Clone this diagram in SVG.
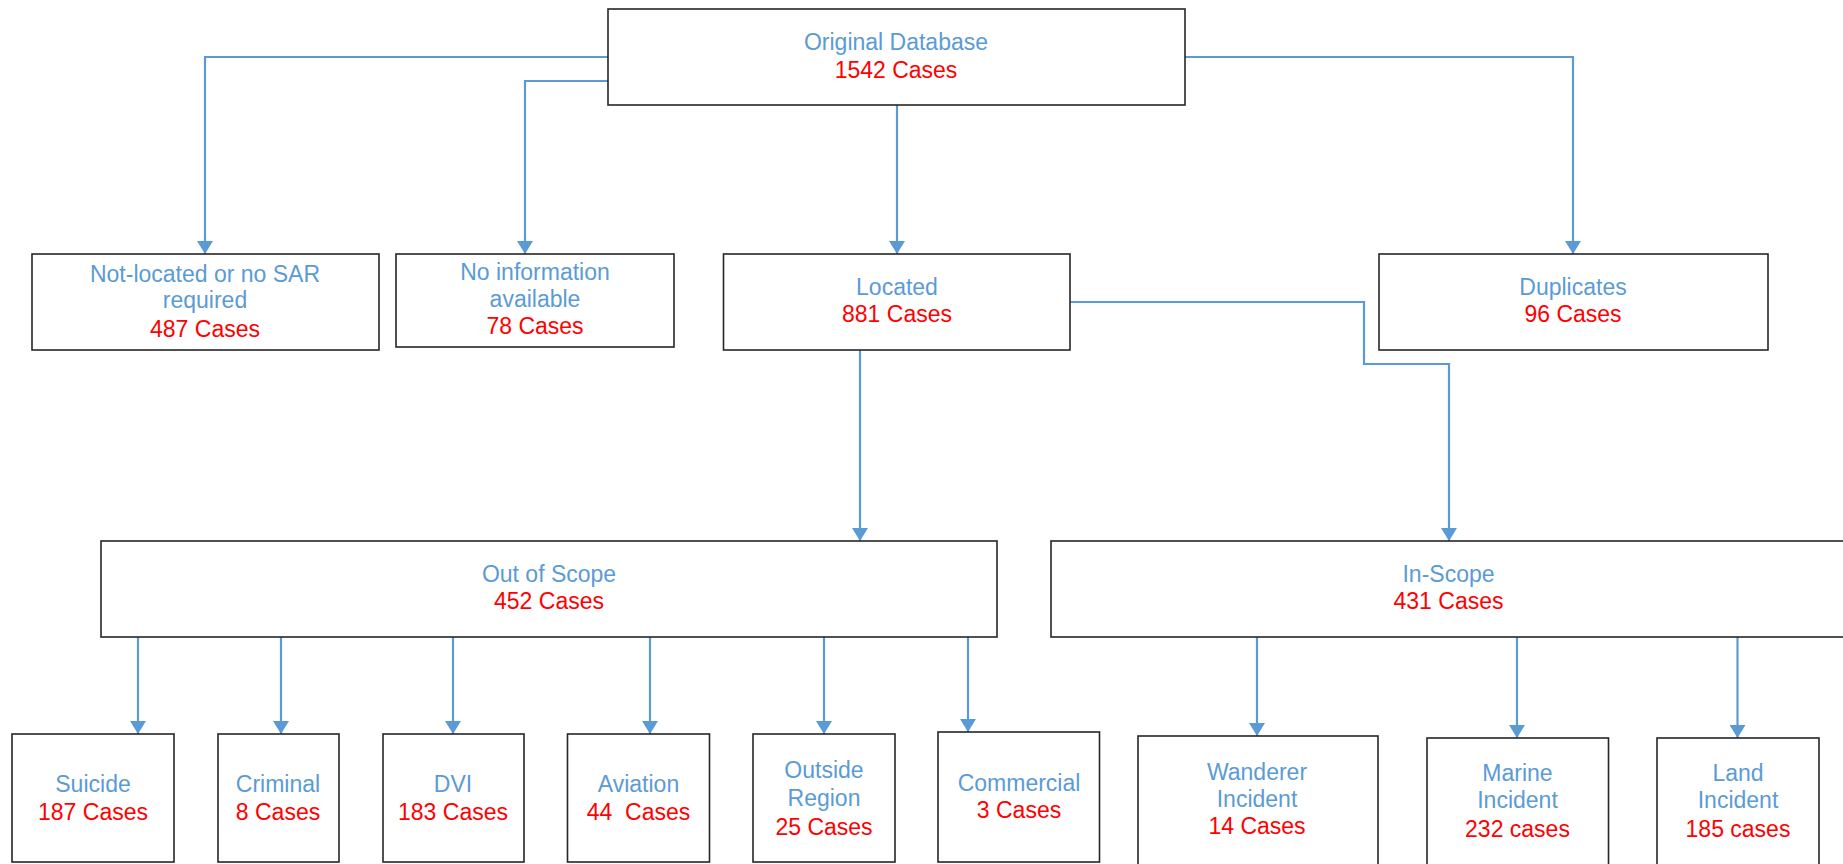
<svg xmlns="http://www.w3.org/2000/svg" width="1843" height="864" viewBox="0 0 1843 864">
<style>
.box{fill:#fff;stroke:#262626;stroke-width:1.6}
.t{font-family:"Liberation Sans",Arial,sans-serif;font-size:23px;text-anchor:middle}
.b{fill:#5B9BD5}
.r{fill:#FF0000}
.c{fill:none;stroke:#5B9BD5;stroke-width:2.2}
</style>
<defs>
<marker id="ah" markerUnits="userSpaceOnUse" viewBox="0 0 13 16" refX="13" refY="8" markerWidth="13" markerHeight="16" orient="auto">
<path d="M0,0 L13,8 L0,16 z" fill="#5B9BD5"/>
</marker>
</defs>
<rect width="1843" height="864" fill="#fff"/>
<g id="connectors">
<path class="c" marker-end="url(#ah)" d="M608,57 H205 V254"/>
<path class="c" marker-end="url(#ah)" d="M608,81 H525 V254"/>
<path class="c" marker-end="url(#ah)" d="M897,105 V254"/>
<path class="c" marker-end="url(#ah)" d="M1185,57 H1573 V254"/>
<path class="c" marker-end="url(#ah)" d="M860,350 V541"/>
<path class="c" marker-end="url(#ah)" d="M1070,302 H1364 V364 H1449 V541"/>
<path class="c" marker-end="url(#ah)" d="M138,637 V734"/>
<path class="c" marker-end="url(#ah)" d="M281,637 V734"/>
<path class="c" marker-end="url(#ah)" d="M453,637 V734"/>
<path class="c" marker-end="url(#ah)" d="M650,637 V734"/>
<path class="c" marker-end="url(#ah)" d="M824,637 V734"/>
<path class="c" marker-end="url(#ah)" d="M968,637 V732"/>
<path class="c" marker-end="url(#ah)" d="M1257,637 V736"/>
<path class="c" marker-end="url(#ah)" d="M1517,637 V738"/>
<path class="c" marker-end="url(#ah)" d="M1737.5,637 V738"/>
</g>
<g id="original">
<rect class="box" x="608" y="9" width="577" height="96"/>
<text class="t b" x="896" y="50">Original Database</text>
<text class="t r" x="896" y="78">1542 Cases</text>
</g>
<g id="notlocated">
<rect class="box" x="32" y="254" width="347" height="96"/>
<text class="t b" x="205" y="282">Not-located or no SAR</text>
<text class="t b" x="205" y="308">required</text>
<text class="t r" x="205" y="337">487 Cases</text>
</g>
<g id="noinfo">
<rect class="box" x="396" y="254" width="278" height="93"/>
<text class="t b" x="535" y="280">No information</text>
<text class="t b" x="535" y="307">available</text>
<text class="t r" x="535" y="334">78 Cases</text>
</g>
<g id="located">
<rect class="box" x="723.5" y="254" width="346.5" height="96"/>
<text class="t b" x="897" y="295">Located</text>
<text class="t r" x="897" y="322">881 Cases</text>
</g>
<g id="duplicates">
<rect class="box" x="1379" y="254" width="389" height="96"/>
<text class="t b" x="1573" y="295">Duplicates</text>
<text class="t r" x="1573" y="322">96 Cases</text>
</g>
<g id="outofscope">
<rect class="box" x="101" y="541" width="896" height="96"/>
<text class="t b" x="549" y="582">Out of Scope</text>
<text class="t r" x="549" y="609">452 Cases</text>
</g>
<g id="inscope">
<rect class="box" x="1051" y="541" width="800" height="96"/>
<text class="t b" x="1448.5" y="582">In-Scope</text>
<text class="t r" x="1448.5" y="609">431 Cases</text>
</g>
<g id="suicide">
<rect class="box" x="12" y="734" width="162" height="128"/>
<text class="t b" x="93" y="792">Suicide</text>
<text class="t r" x="93" y="820">187 Cases</text>
</g>
<g id="criminal">
<rect class="box" x="218" y="734" width="121" height="128"/>
<text class="t b" x="278" y="792">Criminal</text>
<text class="t r" x="278" y="820">8 Cases</text>
</g>
<g id="dvi">
<rect class="box" x="383" y="734" width="141" height="128"/>
<text class="t b" x="453" y="792">DVI</text>
<text class="t r" x="453" y="820">183 Cases</text>
</g>
<g id="aviation">
<rect class="box" x="567.5" y="734" width="142" height="128"/>
<text class="t b" x="638.5" y="792">Aviation</text>
<text class="t r" x="638.5" y="820" xml:space="preserve">44  Cases</text>
</g>
<g id="outside">
<rect class="box" x="753" y="734" width="142" height="128"/>
<text class="t b" x="824" y="778">Outside</text>
<text class="t b" x="824" y="806">Region</text>
<text class="t r" x="824" y="835">25 Cases</text>
</g>
<g id="commercial">
<rect class="box" x="938" y="732" width="161.5" height="130"/>
<text class="t b" x="1019" y="791">Commercial</text>
<text class="t r" x="1019" y="818">3 Cases</text>
</g>
<g id="wanderer">
<rect class="box" x="1138" y="736" width="240" height="140"/>
<text class="t b" x="1257" y="780">Wanderer</text>
<text class="t b" x="1257" y="807">Incident</text>
<text class="t r" x="1257" y="834">14 Cases</text>
</g>
<g id="marine">
<rect class="box" x="1427" y="738" width="181.5" height="140"/>
<text class="t b" x="1517.5" y="781">Marine</text>
<text class="t b" x="1517.5" y="808">Incident</text>
<text class="t r" x="1517.5" y="837">232 cases</text>
</g>
<g id="land">
<rect class="box" x="1657" y="738" width="162" height="140"/>
<text class="t b" x="1738" y="781">Land</text>
<text class="t b" x="1738" y="808">Incident</text>
<text class="t r" x="1738" y="837">185 cases</text>
</g>
</svg>
